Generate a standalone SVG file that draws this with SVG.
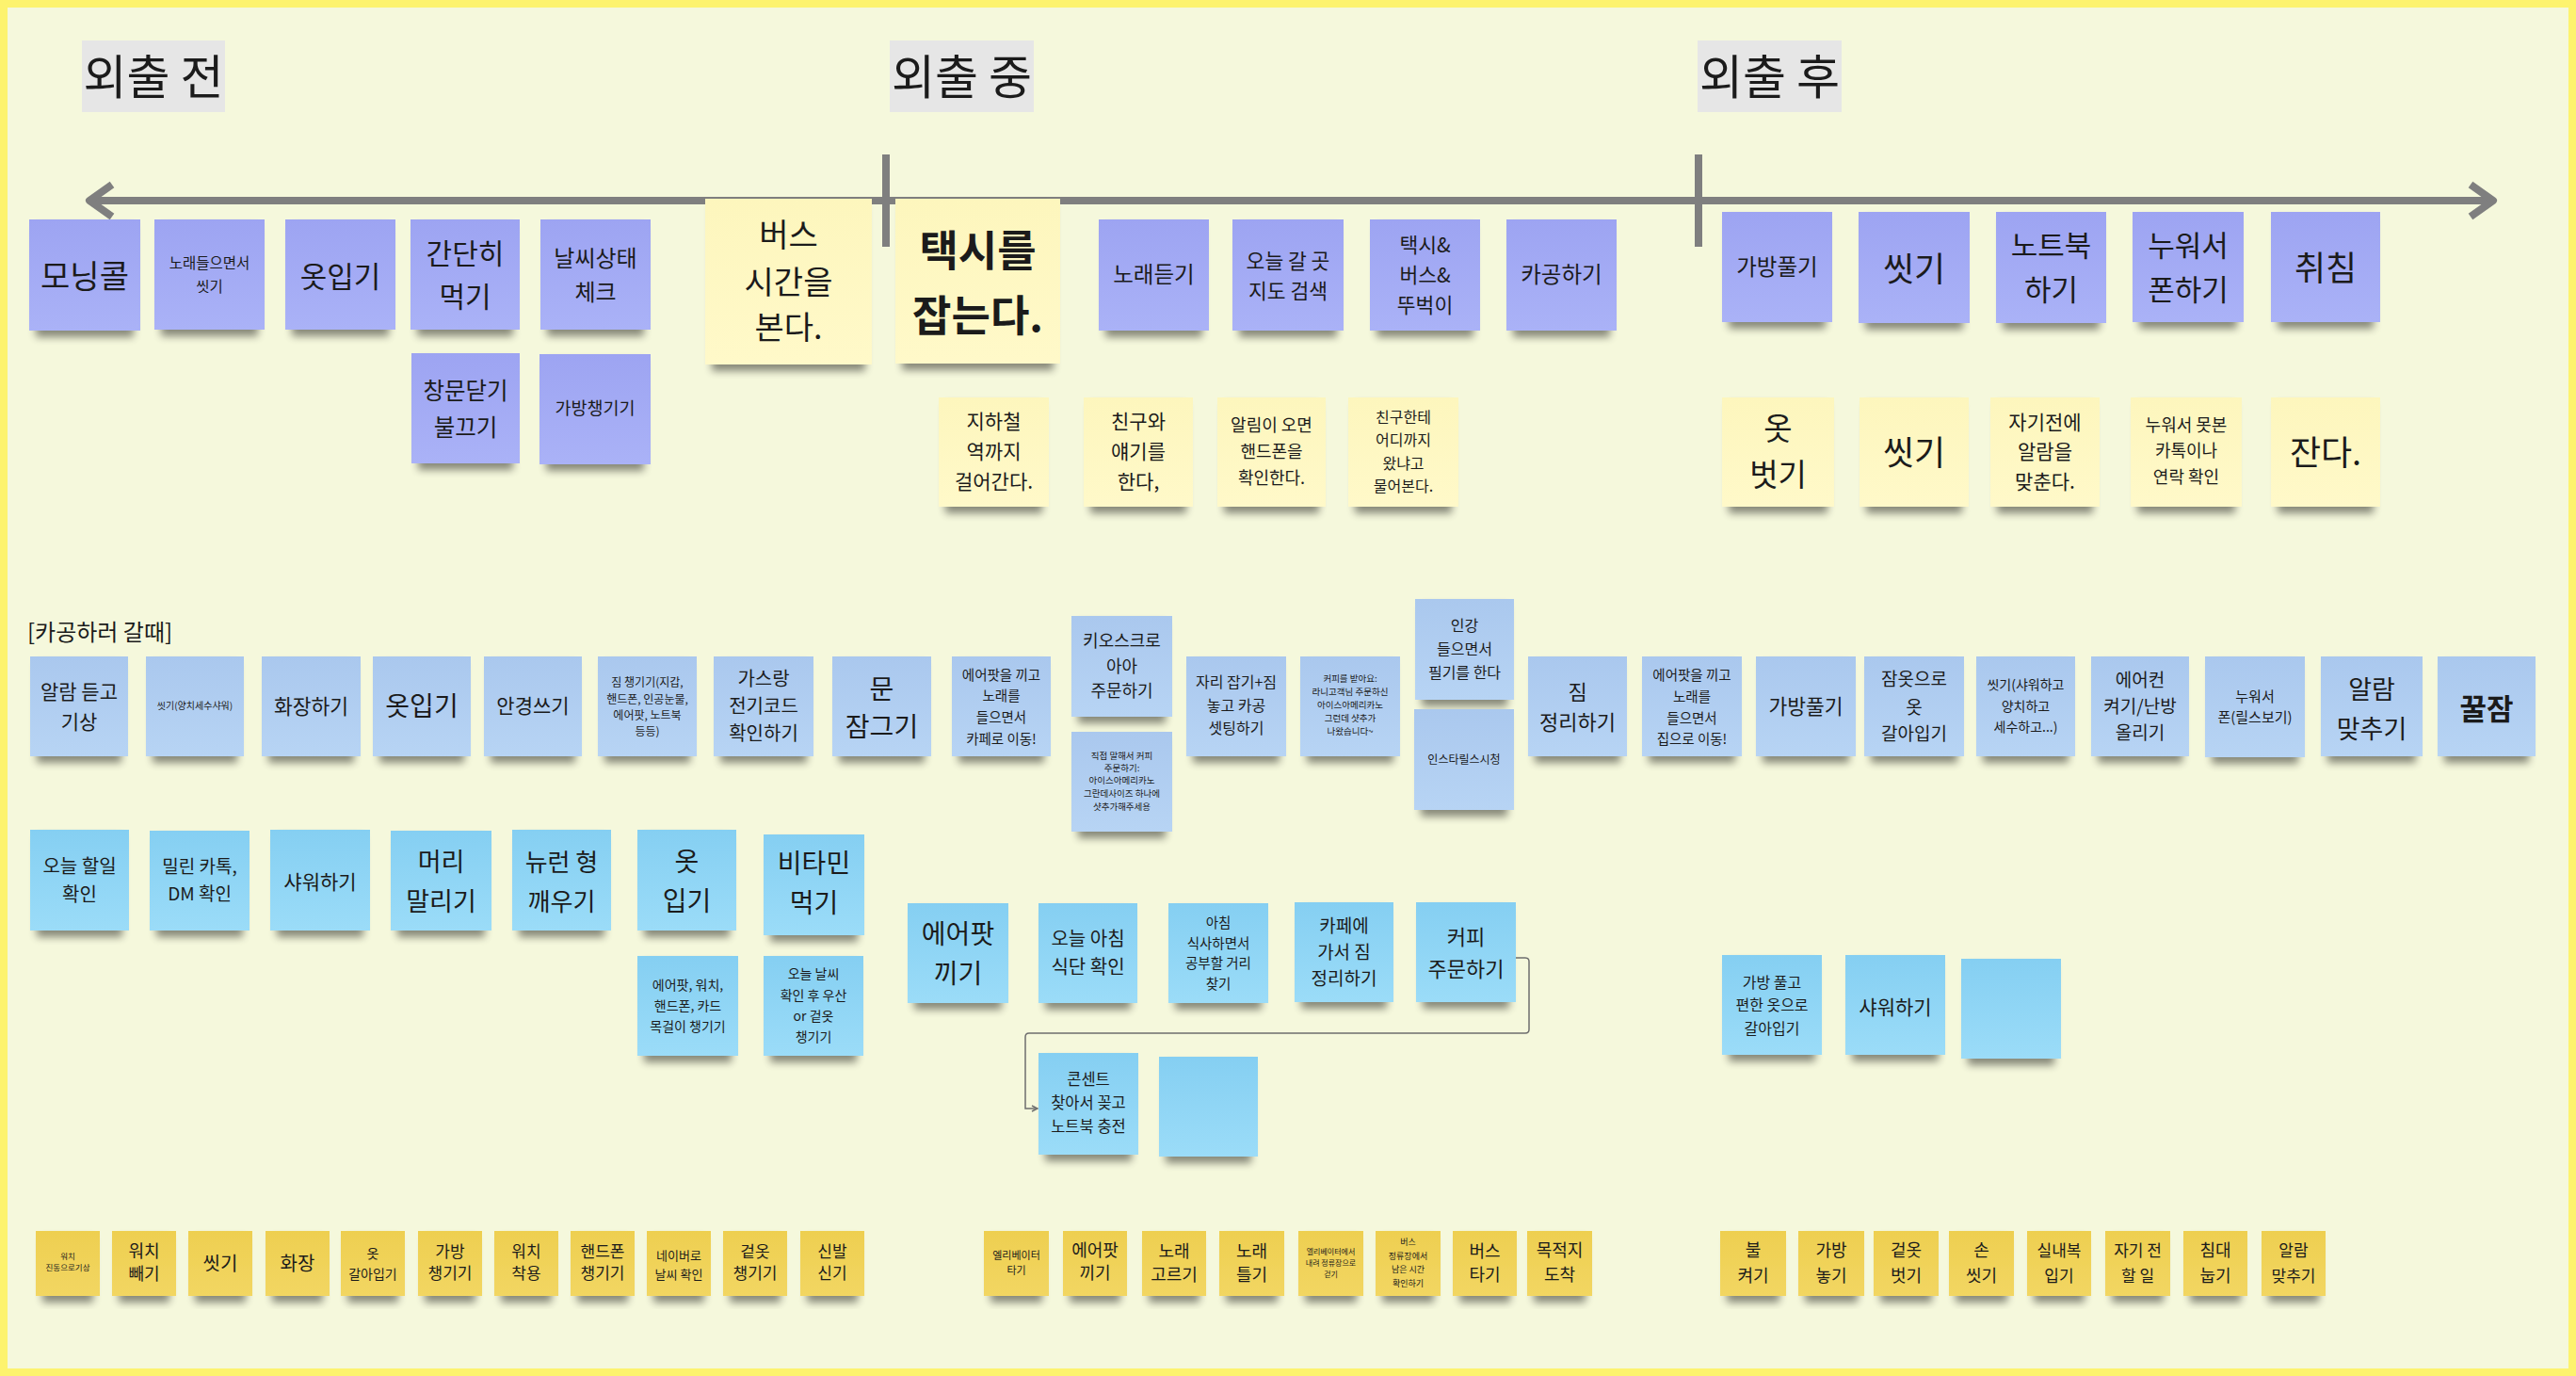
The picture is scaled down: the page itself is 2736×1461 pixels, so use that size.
<svg xmlns="http://www.w3.org/2000/svg" width="2736" height="1461" viewBox="0 0 2736 1461">
<defs>
<linearGradient id="gp" x1="0" y1="0" x2="0" y2="1"><stop offset="0" stop-color="#9da4f2"/><stop offset="1" stop-color="#aab2f7"/></linearGradient>
<linearGradient id="gy" x1="0" y1="0" x2="0" y2="1"><stop offset="0" stop-color="#fdf6bd"/><stop offset="1" stop-color="#fff9c9"/></linearGradient>
<linearGradient id="gb" x1="0" y1="0" x2="0" y2="1"><stop offset="0" stop-color="#aac8ee"/><stop offset="1" stop-color="#b7d4f4"/></linearGradient>
<linearGradient id="gs" x1="0" y1="0" x2="0" y2="1"><stop offset="0" stop-color="#85cff2"/><stop offset="1" stop-color="#9bdcf8"/></linearGradient>
<linearGradient id="gg" x1="0" y1="0" x2="0" y2="1"><stop offset="0" stop-color="#eecf50"/><stop offset="1" stop-color="#f2d662"/></linearGradient>
<filter id="sh" x="-10%" y="-10%" width="120%" height="130%">
<feMorphology in="SourceAlpha" operator="erode" radius="7 0" result="e"/>
<feOffset in="e" dy="7" result="o"/>
<feGaussianBlur in="o" stdDeviation="4" result="b"/>
<feComponentTransfer in="b" result="c"><feFuncA type="linear" slope="0.45"/></feComponentTransfer>
<feMerge><feMergeNode in="c"/><feMergeNode in="SourceGraphic"/></feMerge>
</filter>
<marker id="ar" markerWidth="8" markerHeight="8" refX="7" refY="4" orient="auto" markerUnits="userSpaceOnUse"><path d="M1,1 L7,4 L1,7" fill="none" stroke="#6e6e6e" stroke-width="1.5"/></marker>
</defs>
<style>
.t{font-family:"Noto Sans CJK KR","Noto Sans",sans-serif;fill:#1b1b1b;text-anchor:middle;dominant-baseline:central}
.h{font-family:"Noto Sans CJK KR","Noto Sans",sans-serif;fill:#1b1b1b;text-anchor:middle}
.st{filter:url(#sh)}
.p{fill:url(#gp)}
.y{fill:url(#gy)}
.b{fill:url(#gb)}
.s{fill:url(#gs)}
.g{fill:url(#gg)}
.tl{stroke:#7f7f7f;stroke-width:8;fill:none;stroke-linecap:butt;stroke-linejoin:round}
.tb{fill:#e6e6e6}
</style>
<rect x="0" y="0" width="2736" height="1461" fill="#fdf36e"/>
<rect x="8" y="8" width="2720" height="1445" fill="#f5f8dc"/>

<g id="titles">
<g id="title-before"><rect class="tb" x="87" y="43" width="152" height="76"/><text class="h" x="163" y="100" font-size="50">외출 전</text></g>
<g id="title-during"><rect class="tb" x="945" y="43" width="153" height="76"/><text class="h" x="1021.5" y="100" font-size="50">외출 중</text></g>
<g id="title-after"><rect class="tb" x="1803" y="43" width="153" height="76"/><text class="h" x="1879.5" y="100" font-size="50">외출 후</text></g>
</g>

<g id="connectors">
<line class="tl" x1="96" y1="213" x2="2645" y2="213"/>
<polyline class="tl" points="119,196 95,213 119,230"/>
<polyline class="tl" points="2624,196 2648,213 2624,230"/>
<line class="tl" x1="941" y1="164" x2="941" y2="262"/>
<line class="tl" x1="1804" y1="164" x2="1804" y2="262"/>
<path d="M1610,1017 H1620 Q1624,1017 1624,1021 V1093 Q1624,1097 1620,1097 H1093 Q1089,1097 1089,1101 V1177 H1102" fill="none" stroke="#6e6e6e" stroke-width="1.5" marker-end="url(#ar)"/>
</g>

<g id="n1"><rect class="st p" x="31" y="233" width="118" height="118"/><text class="t" x="90" y="291" font-size="34">모닝콜</text></g>
<g id="n2"><rect class="st p" x="164" y="233" width="117" height="117"/><text class="t" font-size="15.5"><tspan x="222.5" y="278">노래들으면서</tspan><tspan x="222.5" y="303">씻기</tspan></text></g>
<g id="n3"><rect class="st p" x="303" y="233" width="117" height="117"/><text class="t" x="361.5" y="291" font-size="31">옷입기</text></g>
<g id="n4"><rect class="st p" x="436" y="233" width="116" height="117"/><text class="t" font-size="30"><tspan x="494" y="267">간단히</tspan><tspan x="494" y="313">먹기</tspan></text></g>
<g id="n5"><rect class="st p" x="574" y="233" width="117" height="117"/><text class="t" font-size="24"><tspan x="632.5" y="272">날씨상태</tspan><tspan x="632.5" y="308">체크</tspan></text></g>
<g id="n6"><rect class="st p" x="437" y="375" width="115" height="117"/><text class="t" font-size="24.5"><tspan x="494.5" y="413">창문닫기</tspan><tspan x="494.5" y="452">불끄기</tspan></text></g>
<g id="n7"><rect class="st p" x="573" y="376" width="118" height="117"/><text class="t" x="632" y="432" font-size="18.5">가방챙기기</text></g>
<g id="n8"><rect class="st y" x="749" y="211" width="177" height="176"/><text class="t" font-size="34"><tspan x="837.5" y="247">버스</tspan><tspan x="837.5" y="297">시간을</tspan><tspan x="837.5" y="345">본다.</tspan></text></g>
<g id="n9"><rect class="st y" x="951" y="211" width="175" height="175"/><text class="t" font-size="45" font-weight="bold"><tspan x="1038.5" y="263">택시를</tspan><tspan x="1038.5" y="332">잡는다.</tspan></text></g>
<g id="n10"><rect class="st p" x="1167" y="233" width="117" height="118"/><text class="t" x="1225.5" y="290" font-size="23.5">노래듣기</text></g>
<g id="n11"><rect class="st p" x="1309" y="233" width="118" height="118"/><text class="t" font-size="21.5"><tspan x="1368" y="275">오늘 갈 곳</tspan><tspan x="1368" y="307">지도 검색</tspan></text></g>
<g id="n12"><rect class="st p" x="1455" y="233" width="117" height="118"/><text class="t" font-size="21.5"><tspan x="1513.5" y="258">택시&amp;</tspan><tspan x="1513.5" y="290">버스&amp;</tspan><tspan x="1513.5" y="322">뚜벅이</tspan></text></g>
<g id="n13"><rect class="st p" x="1600" y="233" width="117" height="118"/><text class="t" x="1658.5" y="290" font-size="23.5">카공하기</text></g>
<g id="n14"><rect class="st p" x="1829" y="225" width="117" height="117"/><text class="t" x="1887.5" y="282" font-size="23.5">가방풀기</text></g>
<g id="n15"><rect class="st p" x="1974" y="225" width="118" height="118"/><text class="t" x="2033" y="283" font-size="36">씻기</text></g>
<g id="n16"><rect class="st p" x="2120" y="225" width="117" height="118"/><text class="t" font-size="31"><tspan x="2178.5" y="258">노트북</tspan><tspan x="2178.5" y="305">하기</tspan></text></g>
<g id="n17"><rect class="st p" x="2265" y="225" width="118" height="117"/><text class="t" font-size="31"><tspan x="2324" y="258">누워서</tspan><tspan x="2324" y="305">폰하기</tspan></text></g>
<g id="n18"><rect class="st p" x="2412" y="225" width="116" height="117"/><text class="t" x="2470" y="282" font-size="36">취침</text></g>

<g id="n19"><rect class="st y" x="997" y="422" width="117" height="116"/><text class="t" font-size="21"><tspan x="1055.5" y="446">지하철</tspan><tspan x="1055.5" y="478">역까지</tspan><tspan x="1055.5" y="510">걸어간다.</tspan></text></g>
<g id="n20"><rect class="st y" x="1151" y="422" width="116" height="116"/><text class="t" font-size="21"><tspan x="1209" y="446">친구와</tspan><tspan x="1209" y="478">얘기를</tspan><tspan x="1209" y="510">한다,</tspan></text></g>
<g id="n21"><rect class="st y" x="1293" y="422" width="115" height="116"/><text class="t" font-size="18"><tspan x="1350.5" y="450">알림이 오면</tspan><tspan x="1350.5" y="478">핸드폰을</tspan><tspan x="1350.5" y="506">확인한다.</tspan></text></g>
<g id="n22"><rect class="st y" x="1432" y="422" width="117" height="116"/><text class="t" font-size="16"><tspan x="1490.5" y="442">친구한테</tspan><tspan x="1490.5" y="466">어디까지</tspan><tspan x="1490.5" y="491">왔냐고</tspan><tspan x="1490.5" y="515">물어본다.</tspan></text></g>
<g id="n23"><rect class="st y" x="1829" y="422" width="119" height="116"/><text class="t" font-size="33"><tspan x="1888.5" y="453">옷</tspan><tspan x="1888.5" y="502">벗기</tspan></text></g>
<g id="n24"><rect class="st y" x="1975" y="422" width="116" height="116"/><text class="t" x="2033" y="478" font-size="36">씻기</text></g>
<g id="n25"><rect class="st y" x="2114" y="422" width="116" height="116"/><text class="t" font-size="21"><tspan x="2172" y="447">자기전에</tspan><tspan x="2172" y="478">알람을</tspan><tspan x="2172" y="510">맞춘다.</tspan></text></g>
<g id="n26"><rect class="st y" x="2263" y="422" width="118" height="116"/><text class="t" font-size="18"><tspan x="2322" y="450">누워서 못본</tspan><tspan x="2322" y="477">카톡이나</tspan><tspan x="2322" y="505">연락 확인</tspan></text></g>
<g id="n27"><rect class="st y" x="2412" y="422" width="116" height="116"/><text class="t" x="2470" y="478" font-size="36">잔다.</text></g>

<g id="label-cafe"><text x="29" y="680" font-family="Noto Sans CJK KR, Noto Sans, sans-serif" font-size="24" fill="#1b1b1b">[카공하러 갈때]</text></g>

<g id="n28"><rect class="st b" x="32" y="697" width="104" height="106"/><text class="t" font-size="21"><tspan x="84" y="733">알람 듣고</tspan><tspan x="84" y="765">기상</tspan></text></g>
<g id="n29"><rect class="st b" x="155" y="697" width="104" height="106"/><text class="t" x="207" y="748" font-size="10">씻기(양치세수샤워)</text></g>
<g id="n30"><rect class="st b" x="278" y="697" width="105" height="106"/><text class="t" x="330.5" y="748" font-size="21.5">화장하기</text></g>
<g id="n31"><rect class="st b" x="396" y="697" width="104" height="106"/><text class="t" x="448" y="748" font-size="28">옷입기</text></g>
<g id="n32"><rect class="st b" x="514" y="697" width="104" height="106"/><text class="t" x="566" y="748" font-size="21">안경쓰기</text></g>
<g id="n33"><rect class="st b" x="635" y="697" width="105" height="106"/><text class="t" font-size="12"><tspan x="687.5" y="723">짐 챙기기(지갑,</tspan><tspan x="687.5" y="741">핸드폰, 인공눈물,</tspan><tspan x="687.5" y="758">에어팟, 노트북</tspan><tspan x="687.5" y="775">등등)</tspan></text></g>
<g id="n34"><rect class="st b" x="758" y="697" width="106" height="106"/><text class="t" font-size="20"><tspan x="811" y="719">가스랑</tspan><tspan x="811" y="748">전기코드</tspan><tspan x="811" y="777">확인하기</tspan></text></g>
<g id="n35"><rect class="st b" x="884" y="697" width="105" height="106"/><text class="t" font-size="28"><tspan x="936.5" y="730">문</tspan><tspan x="936.5" y="770">잠그기</tspan></text></g>
<g id="n36"><rect class="st b" x="1011" y="697" width="105" height="106"/><text class="t" font-size="14.5"><tspan x="1063.5" y="715">에어팟을 끼고</tspan><tspan x="1063.5" y="737">노래를</tspan><tspan x="1063.5" y="760">들으면서</tspan><tspan x="1063.5" y="783">카페로 이동!</tspan></text></g>
<g id="n37"><rect class="st b" x="1138" y="654" width="107" height="107"/><text class="t" font-size="18"><tspan x="1191.5" y="679">키오스크로</tspan><tspan x="1191.5" y="706">아아</tspan><tspan x="1191.5" y="732">주문하기</tspan></text></g>
<g id="n38"><rect class="st b" x="1138" y="777" width="107" height="106"/><text class="t" font-size="9.5"><tspan x="1191.5" y="802">직접 말해서 커피</tspan><tspan x="1191.5" y="815">주문하기:</tspan><tspan x="1191.5" y="828">아이스아메리카노</tspan><tspan x="1191.5" y="842">그란데사이즈 하나에</tspan><tspan x="1191.5" y="856">샷추가해주세용</tspan></text></g>
<g id="n39"><rect class="st b" x="1260" y="697" width="106" height="106"/><text class="t" font-size="16"><tspan x="1313" y="723">자리 잡기+짐</tspan><tspan x="1313" y="748">놓고 카공</tspan><tspan x="1313" y="772">셋팅하기</tspan></text></g>
<g id="n40"><rect class="st b" x="1381" y="697" width="106" height="106"/><text class="t" font-size="9.5"><tspan x="1434" y="720">커피를 받아요:</tspan><tspan x="1434" y="734">라니고객님 주문하신</tspan><tspan x="1434" y="748">아이스아메리카노</tspan><tspan x="1434" y="762">그런데 샷추가</tspan><tspan x="1434" y="776">나왔습니다~</tspan></text></g>
<g id="n41"><rect class="st b" x="1503" y="636" width="105" height="107"/><text class="t" font-size="16"><tspan x="1555.5" y="663">인강</tspan><tspan x="1555.5" y="688">들으면서</tspan><tspan x="1555.5" y="713">필기를 한다</tspan></text></g>
<g id="n42"><rect class="st b" x="1502" y="753" width="106" height="107"/><text class="t" x="1555" y="805" font-size="12">인스타릴스시청</text></g>
<g id="n43"><rect class="st b" x="1623" y="697" width="105" height="106"/><text class="t" font-size="22"><tspan x="1675.5" y="733">짐</tspan><tspan x="1675.5" y="765">정리하기</tspan></text></g>
<g id="n44"><rect class="st b" x="1744" y="697" width="106" height="106"/><text class="t" font-size="14.5"><tspan x="1797" y="715">에어팟을 끼고</tspan><tspan x="1797" y="738">노래를</tspan><tspan x="1797" y="761">들으면서</tspan><tspan x="1797" y="783">집으로 이동!</tspan></text></g>
<g id="n45"><rect class="st b" x="1865" y="697" width="106" height="106"/><text class="t" x="1918" y="748" font-size="21.5">가방풀기</text></g>
<g id="n46"><rect class="st b" x="1980" y="697" width="106" height="106"/><text class="t" font-size="19"><tspan x="2033" y="719">잠옷으로</tspan><tspan x="2033" y="749">옷</tspan><tspan x="2033" y="777">갈아입기</tspan></text></g>
<g id="n47"><rect class="st b" x="2099" y="697" width="105" height="106"/><text class="t" font-size="14"><tspan x="2151.5" y="726">씻기(샤워하고</tspan><tspan x="2151.5" y="749">양치하고</tspan><tspan x="2151.5" y="771">세수하고...)</tspan></text></g>
<g id="n48"><rect class="st b" x="2221" y="697" width="104" height="106"/><text class="t" font-size="19"><tspan x="2273" y="720">에어컨</tspan><tspan x="2273" y="748">켜기/난방</tspan><tspan x="2273" y="776">올리기</tspan></text></g>
<g id="n49"><rect class="st b" x="2342" y="697" width="106" height="107"/><text class="t" font-size="15"><tspan x="2395" y="738">누워서</tspan><tspan x="2395" y="760">폰(릴스보기)</tspan></text></g>
<g id="n50"><rect class="st b" x="2465" y="697" width="108" height="106"/><text class="t" font-size="27"><tspan x="2519" y="730">알람</tspan><tspan x="2519" y="772">맞추기</tspan></text></g>
<g id="n51"><rect class="st b" x="2589" y="697" width="104" height="106"/><text class="t" x="2641" y="750" font-size="31" font-weight="bold">꿀잠</text></g>

<g id="n52"><rect class="st s" x="32" y="881" width="105" height="107"/><text class="t" font-size="20"><tspan x="84.5" y="918">오늘 할일</tspan><tspan x="84.5" y="948">확인</tspan></text></g>
<g id="n53"><rect class="st s" x="159" y="882" width="106" height="106"/><text class="t" font-size="19"><tspan x="212" y="918">밀린 카톡,</tspan><tspan x="212" y="947">DM 확인</tspan></text></g>
<g id="n54"><rect class="st s" x="287" y="881" width="106" height="107"/><text class="t" x="340" y="935" font-size="21">샤워하기</text></g>
<g id="n55"><rect class="st s" x="415" y="882" width="107" height="106"/><text class="t" font-size="27"><tspan x="468.5" y="913">머리</tspan><tspan x="468.5" y="955">말리기</tspan></text></g>
<g id="n56"><rect class="st s" x="544" y="881" width="105" height="107"/><text class="t" font-size="26"><tspan x="596.5" y="913">뉴런 형</tspan><tspan x="596.5" y="955">깨우기</tspan></text></g>
<g id="n57"><rect class="st s" x="677" y="881" width="105" height="107"/><text class="t" font-size="28"><tspan x="729.5" y="913">옷</tspan><tspan x="729.5" y="955">입기</tspan></text></g>
<g id="n58"><rect class="st s" x="811" y="886" width="107" height="107"/><text class="t" font-size="28"><tspan x="864.5" y="915">비타민</tspan><tspan x="864.5" y="957">먹기</tspan></text></g>
<g id="n59"><rect class="st s" x="677" y="1015" width="107" height="106"/><text class="t" font-size="14"><tspan x="730.5" y="1045">에어팟, 워치,</tspan><tspan x="730.5" y="1067">핸드폰, 카드</tspan><tspan x="730.5" y="1089">목걸이 챙기기</tspan></text></g>
<g id="n60"><rect class="st s" x="811" y="1015" width="106" height="106"/><text class="t" font-size="14"><tspan x="864" y="1033">오늘 날씨</tspan><tspan x="864" y="1056">확인 후 우산</tspan><tspan x="864" y="1078">or 겉옷</tspan><tspan x="864" y="1100">챙기기</tspan></text></g>
<g id="n61"><rect class="st s" x="964" y="959" width="107" height="106"/><text class="t" font-size="28"><tspan x="1017.5" y="990">에어팟</tspan><tspan x="1017.5" y="1032">끼기</tspan></text></g>
<g id="n62"><rect class="st s" x="1103" y="959" width="105" height="106"/><text class="t" font-size="20"><tspan x="1155.5" y="995">오늘 아침</tspan><tspan x="1155.5" y="1025">식단 확인</tspan></text></g>
<g id="n63"><rect class="st s" x="1241" y="959" width="106" height="106"/><text class="t" font-size="14.5"><tspan x="1294" y="978">아침</tspan><tspan x="1294" y="1000">식사하면서</tspan><tspan x="1294" y="1021">공부할 거리</tspan><tspan x="1294" y="1043">찾기</tspan></text></g>
<g id="n64"><rect class="st s" x="1375" y="958" width="105" height="106"/><text class="t" font-size="19"><tspan x="1427.5" y="981">카페에</tspan><tspan x="1427.5" y="1009">가서 짐</tspan><tspan x="1427.5" y="1037">정리하기</tspan></text></g>
<g id="n65"><rect class="st s" x="1504" y="958" width="106" height="106"/><text class="t" font-size="22"><tspan x="1557" y="993">커피</tspan><tspan x="1557" y="1027">주문하기</tspan></text></g>
<g id="n66"><rect class="st s" x="1103" y="1118" width="106" height="108"/><text class="t" font-size="16.5"><tspan x="1156" y="1145">콘센트</tspan><tspan x="1156" y="1170">찾아서 꽂고</tspan><tspan x="1156" y="1195">노트북 충전</tspan></text></g>
<g id="n67"><rect class="st s" x="1231" y="1122" width="105" height="106"/></g>
<g id="n68"><rect class="st s" x="1829" y="1014" width="106" height="106"/><text class="t" font-size="16"><tspan x="1882" y="1042">가방 풀고</tspan><tspan x="1882" y="1066">편한 옷으로</tspan><tspan x="1882" y="1091">갈아입기</tspan></text></g>
<g id="n69"><rect class="st s" x="1960" y="1014" width="106" height="106"/><text class="t" x="2013" y="1068" font-size="21">샤워하기</text></g>
<g id="n70"><rect class="st s" x="2083" y="1018" width="106" height="106"/></g>

<g id="n71"><rect class="st g" x="38" y="1307" width="68" height="69"/><text class="t" font-size="8.5"><tspan x="72" y="1333">워치</tspan><tspan x="72" y="1345">진동으로기상</tspan></text></g>
<g id="n72"><rect class="st g" x="119" y="1307" width="68" height="69"/><text class="t" font-size="18"><tspan x="153" y="1327">워치</tspan><tspan x="153" y="1351">빼기</tspan></text></g>
<g id="n73"><rect class="st g" x="200" y="1307" width="68" height="69"/><text class="t" x="234" y="1340" font-size="20">씻기</text></g>
<g id="n74"><rect class="st g" x="282" y="1307" width="68" height="69"/><text class="t" x="316" y="1340" font-size="20">화장</text></g>
<g id="n75"><rect class="st g" x="362" y="1307" width="68" height="69"/><text class="t" font-size="14"><tspan x="396" y="1330">옷</tspan><tspan x="396" y="1352">갈아입기</tspan></text></g>
<g id="n76"><rect class="st g" x="444" y="1307" width="68" height="69"/><text class="t" font-size="17"><tspan x="478" y="1327">가방</tspan><tspan x="478" y="1350">챙기기</tspan></text></g>
<g id="n77"><rect class="st g" x="525" y="1307" width="68" height="69"/><text class="t" font-size="17"><tspan x="559" y="1327">워치</tspan><tspan x="559" y="1350">착용</tspan></text></g>
<g id="n78"><rect class="st g" x="606" y="1307" width="68" height="69"/><text class="t" font-size="17"><tspan x="640" y="1327">핸드폰</tspan><tspan x="640" y="1350">챙기기</tspan></text></g>
<g id="n79"><rect class="st g" x="687" y="1307" width="68" height="69"/><text class="t" font-size="13"><tspan x="721" y="1332">네이버로</tspan><tspan x="721" y="1352">날씨 확인</tspan></text></g>
<g id="n80"><rect class="st g" x="768" y="1307" width="68" height="69"/><text class="t" font-size="17"><tspan x="802" y="1327">겉옷</tspan><tspan x="802" y="1350">챙기기</tspan></text></g>
<g id="n81"><rect class="st g" x="850" y="1307" width="68" height="69"/><text class="t" font-size="17"><tspan x="884" y="1327">신발</tspan><tspan x="884" y="1350">신기</tspan></text></g>
<g id="n82"><rect class="st g" x="1045" y="1307" width="69" height="69"/><text class="t" font-size="11"><tspan x="1079.5" y="1332">엘리베이터</tspan><tspan x="1079.5" y="1348">타기</tspan></text></g>
<g id="n83"><rect class="st g" x="1129" y="1307" width="68" height="69"/><text class="t" font-size="18"><tspan x="1163" y="1326">에어팟</tspan><tspan x="1163" y="1350">끼기</tspan></text></g>
<g id="n84"><rect class="st g" x="1213" y="1307" width="68" height="69"/><text class="t" font-size="18"><tspan x="1247" y="1327">노래</tspan><tspan x="1247" y="1352">고르기</tspan></text></g>
<g id="n85"><rect class="st g" x="1295" y="1307" width="69" height="69"/><text class="t" font-size="18"><tspan x="1329.5" y="1327">노래</tspan><tspan x="1329.5" y="1352">틀기</tspan></text></g>
<g id="n86"><rect class="st g" x="1379" y="1307" width="69" height="69"/><text class="t" font-size="8"><tspan x="1413.5" y="1328">엘리베이터에서</tspan><tspan x="1413.5" y="1340">내려 정류장으로</tspan><tspan x="1413.5" y="1352">걷기</tspan></text></g>
<g id="n87"><rect class="st g" x="1461" y="1307" width="69" height="69"/><text class="t" font-size="9"><tspan x="1495.5" y="1318">버스</tspan><tspan x="1495.5" y="1333">정류장에서</tspan><tspan x="1495.5" y="1347">남은 시간</tspan><tspan x="1495.5" y="1362">확인하기</tspan></text></g>
<g id="n88"><rect class="st g" x="1543" y="1307" width="68" height="69"/><text class="t" font-size="18"><tspan x="1577" y="1327">버스</tspan><tspan x="1577" y="1352">타기</tspan></text></g>
<g id="n89"><rect class="st g" x="1622" y="1307" width="69" height="69"/><text class="t" font-size="18"><tspan x="1656.5" y="1326">목적지</tspan><tspan x="1656.5" y="1352">도착</tspan></text></g>
<g id="n90"><rect class="st g" x="1827" y="1307" width="70" height="69"/><text class="t" font-size="18"><tspan x="1862" y="1326">불</tspan><tspan x="1862" y="1353">켜기</tspan></text></g>
<g id="n91"><rect class="st g" x="1910" y="1307" width="70" height="69"/><text class="t" font-size="18"><tspan x="1945" y="1326">가방</tspan><tspan x="1945" y="1353">놓기</tspan></text></g>
<g id="n92"><rect class="st g" x="1990" y="1307" width="69" height="69"/><text class="t" font-size="18"><tspan x="2024.5" y="1326">겉옷</tspan><tspan x="2024.5" y="1353">벗기</tspan></text></g>
<g id="n93"><rect class="st g" x="2070" y="1307" width="69" height="69"/><text class="t" font-size="18"><tspan x="2104.5" y="1326">손</tspan><tspan x="2104.5" y="1353">씻기</tspan></text></g>
<g id="n94"><rect class="st g" x="2153" y="1307" width="68" height="69"/><text class="t" font-size="17"><tspan x="2187" y="1326">실내복</tspan><tspan x="2187" y="1353">입기</tspan></text></g>
<g id="n95"><rect class="st g" x="2236" y="1307" width="69" height="69"/><text class="t" font-size="17"><tspan x="2270.5" y="1326">자기 전</tspan><tspan x="2270.5" y="1353">할 일</tspan></text></g>
<g id="n96"><rect class="st g" x="2319" y="1307" width="68" height="69"/><text class="t" font-size="18"><tspan x="2353" y="1326">침대</tspan><tspan x="2353" y="1353">눕기</tspan></text></g>
<g id="n97"><rect class="st g" x="2402" y="1307" width="68" height="69"/><text class="t" font-size="17"><tspan x="2436" y="1326">알람</tspan><tspan x="2436" y="1353">맞추기</tspan></text></g>
</svg>
